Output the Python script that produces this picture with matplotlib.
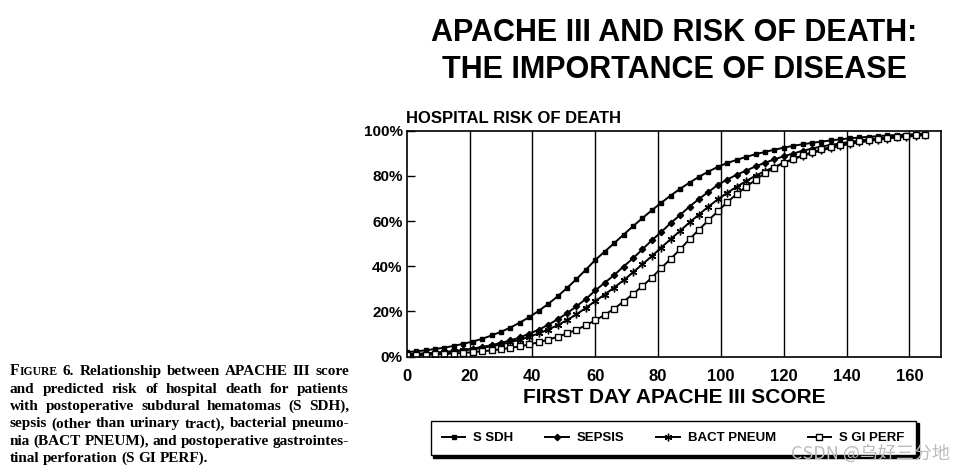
import matplotlib
matplotlib.use("Agg")
import matplotlib.pyplot as plt

# APACHE III score, markers every 3 points
score = list(range(0, 166, 3))

s_sdh = [0.020, 0.024, 0.028, 0.034, 0.040, 0.048, 0.057, 0.067, 0.079, 0.094,
         0.110, 0.129, 0.151, 0.175, 0.203, 0.233, 0.267, 0.304, 0.343, 0.385,
         0.428, 0.465, 0.502, 0.540, 0.577, 0.613, 0.648, 0.681, 0.713, 0.743,
         0.770, 0.796, 0.819, 0.840, 0.857, 0.871, 0.884, 0.896, 0.906, 0.916,
         0.925, 0.933, 0.940, 0.946, 0.952, 0.957, 0.962, 0.966, 0.970, 0.973,
         0.976, 0.979, 0.981, 0.983, 0.985, 0.987]
sepsis = [0.010, 0.012, 0.014, 0.017, 0.021, 0.025, 0.030, 0.036, 0.043, 0.051,
          0.061, 0.072, 0.085, 0.102, 0.119, 0.141, 0.165, 0.192, 0.223, 0.255,
          0.293, 0.327, 0.361, 0.399, 0.435, 0.475, 0.515, 0.552, 0.591, 0.627,
          0.664, 0.698, 0.729, 0.760, 0.784, 0.805, 0.823, 0.842, 0.858, 0.873,
          0.887, 0.899, 0.911, 0.921, 0.930, 0.937, 0.944, 0.951, 0.956, 0.962,
          0.966, 0.970, 0.974, 0.977, 0.980, 0.982]
bact_pneum = [0.010, 0.012, 0.014, 0.017, 0.020, 0.023, 0.028, 0.033, 0.039, 0.046,
              0.054, 0.064, 0.075, 0.088, 0.103, 0.120, 0.139, 0.162, 0.187, 0.216,
              0.246, 0.275, 0.306, 0.338, 0.373, 0.409, 0.445, 0.483, 0.520, 0.557,
              0.594, 0.629, 0.664, 0.696, 0.725, 0.752, 0.777, 0.801, 0.821, 0.840,
              0.858, 0.874, 0.889, 0.901, 0.913, 0.923, 0.933, 0.941, 0.948, 0.954,
              0.960, 0.965, 0.970, 0.973, 0.977, 0.980]
s_gi_perf = [0.006, 0.007, 0.008, 0.010, 0.012, 0.014, 0.017, 0.020, 0.024, 0.028,
             0.033, 0.039, 0.046, 0.054, 0.064, 0.075, 0.088, 0.103, 0.119, 0.139,
             0.161, 0.185, 0.212, 0.244, 0.277, 0.312, 0.350, 0.392, 0.433, 0.475,
             0.520, 0.562, 0.603, 0.643, 0.684, 0.719, 0.752, 0.782, 0.812, 0.836,
             0.858, 0.875, 0.891, 0.905, 0.917, 0.928, 0.937, 0.945, 0.953, 0.959,
             0.964, 0.969, 0.973, 0.977, 0.980, 0.983]

labels = ["S SDH", "SEPSIS", "BACT PNEUM", "S GI PERF"]
x_ticks = [0, 20, 40, 60, 80, 100, 120, 140, 160]
y_ticks = [0, 0.2, 0.4, 0.6, 0.8, 1.0]
y_tick_labels = ["0%", "20%", "40%", "60%", "80%", "100%"]

caption = [
    "6. Relationship between APACHE III score",
    "and predicted risk of hospital death for patients",
    "with postoperative subdural hematomas (S SDH),",
    "sepsis (other than urinary tract), bacterial pneumo-",
    "nia (BACT PNEUM), and postoperative gastrointes-",
    "tinal perforation (S GI PERF).",
]

plt.rcParams['font.family'] = ['Liberation Sans', 'DejaVu Sans']

fig = plt.figure(figsize=(9.7, 4.71), dpi=100)
ax = fig.add_axes([0.4193, 0.2427, 0.5507, 0.4798])

styles = [
    dict(marker='s', ms=3.5, mfc='black'),
    dict(marker='D', ms=3.2, mfc='black'),
    dict(marker=(6, 2, 0), ms=5.5, mew=1.0),
    dict(marker='s', ms=4, mfc='white', mew=1.0),
]
series = [s_sdh, sepsis, bact_pneum, s_gi_perf]
for ys, lab, st in zip(series, labels, styles):
    ax.plot(score, ys, color='black', lw=1.4, mec='black', label=lab, **st)

ax.set_xlim(0, 170)
ax.set_ylim(0, 1.0)
for xv in x_ticks[1:]:
    ax.axvline(xv, color='black', lw=1.0, zorder=0)
ax.set_xticks(x_ticks)
ax.set_yticks(y_ticks)
ax.set_yticklabels(y_tick_labels)
ax.tick_params(axis='x', length=0, pad=9, labelsize=12)
ax.tick_params(axis='y', direction='in', length=6, width=1, pad=3, labelsize=11)
for lbl in ax.get_xticklabels() + ax.get_yticklabels():
    lbl.set_fontweight('bold')
for sp in ax.spines.values():
    sp.set_linewidth(1.2)

ax.set_xlabel("FIRST DAY APACHE III SCORE", fontsize=15, fontweight='bold', labelpad=3)
ax.text(-0.002, 1.02, "HOSPITAL RISK OF DEATH", transform=ax.transAxes,
        fontsize=12, fontweight='bold', ha='left', va='bottom')

fig.text(0.695, 0.93, "APACHE III AND RISK OF DEATH:", fontsize=22,
         fontweight='bold', ha='center', va='center')
fig.text(0.695, 0.852, "THE IMPORTANCE OF DISEASE", fontsize=22,
         fontweight='bold', ha='center', va='center')

# legend with drop shadow
leg = fig.legend(loc='center', bbox_to_anchor=(0.694, 0.07), ncol=4,
                 frameon=True, fancybox=False, shadow={'color': 'black', 'alpha': 1.0},
                 edgecolor='black', handlelength=1.8,
                 columnspacing=2.4, borderpad=0.85, handletextpad=0.6,
                 borderaxespad=0.0, prop={'weight': 'bold', 'size': 9.5})
leg.get_frame().set_linewidth(1.0)

# caption at left, justified between x0 and x1 (pixels)
serif = ['Liberation Serif', 'DejaVu Serif']
cap_size = 11
x0, x1 = 10, 349
y0 = 0.203
dy = 0.0368
renderer = fig.canvas.get_renderer()


def px_width(t):
    return t.get_window_extent(renderer=renderer).width


# small caps "FIGURE" lead-in
t_f = fig.text(x0 / 970, y0, "F", fontsize=cap_size * 1.02, fontweight='bold',
               family=serif, ha='left', va='baseline')
xf = x0 + px_width(t_f) + 0.3
t_ig = fig.text(xf / 970, y0, "IGURE", fontsize=cap_size * 0.76, fontweight='bold',
                family=serif, ha='left', va='baseline')
lead_end = xf + px_width(t_ig)

for i, line in enumerate(caption):
    y = y0 - i * dy
    start = lead_end if i == 0 else x0
    words = line.split()
    texts = [fig.text(0, y, w, fontsize=cap_size, fontweight='bold', family=serif,
                      ha='left', va='baseline') for w in words]
    widths = [px_width(t) for t in texts]
    last = i == len(caption) - 1
    if i == 0:
        gap = (x1 - start - sum(widths)) / len(words)
        xpos = start + gap
    elif last:
        gap = 3.6
        xpos = start
    else:
        gap = (x1 - start - sum(widths)) / (len(words) - 1)
        xpos = start
    for t, w in zip(texts, widths):
        t.set_x(xpos / 970)
        xpos += w + gap

fig.text(0.897, 0.038, "CSDN @乌好三分地", fontsize=13, color='#bbbbbb',
         family=['Noto Sans CJK SC', 'DejaVu Sans'], ha='center', va='center',
         zorder=10)

fig.savefig("out.png", dpi=100)
